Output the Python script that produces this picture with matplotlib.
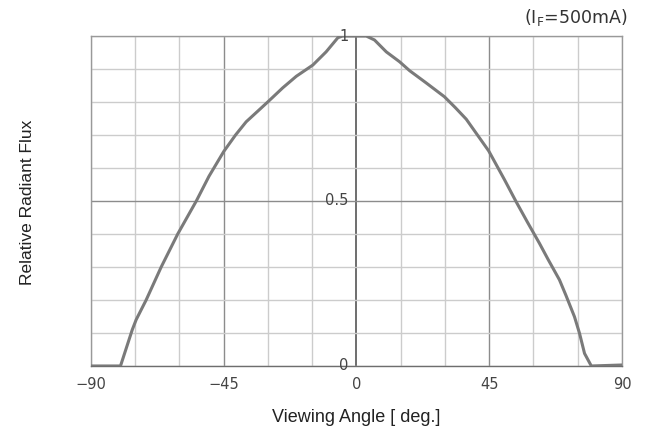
import numpy as np
import matplotlib.pyplot as plt

# values
angle = [-90, -80, -76, -74.7, -71.3, -66.2, -60.6, -54.3, -50, -45, -41,
         -37.4, -33.5, -30.1, -25, -20.4, -14.8, -10.3, -6.3, -4.7, 0, 3.3, 6.1,
         10.1, 14.6, 18, 23.6, 29.8, 33.5, 37.2, 41, 44.8, 50.2, 54.1, 58, 62,
         65, 68.8, 71, 73.9, 75.6, 77.3, 79.6, 90]
flux = [0.0, 0.0, 0.11, 0.14, 0.20, 0.30, 0.40, 0.50, 0.575, 0.65, 0.70,
        0.74, 0.772, 0.80, 0.843, 0.878, 0.912, 0.952, 0.995, 1.0, 1.0, 1.0, 0.988,
        0.952, 0.922, 0.895, 0.858, 0.816, 0.783, 0.748, 0.70, 0.652, 0.564,
        0.498, 0.435, 0.372, 0.322, 0.261, 0.214, 0.149, 0.099, 0.038, 0.0, 0.003]
x_ticks = [-90, -45, 0, 45, 90]
y_labels = [(1, "1"), (0.5, "0.5"), (0, "0")]

fig = plt.figure(figsize=(6.49, 4.36), dpi=100)
ax = fig.add_axes([0.1402, 0.1606, 0.8182, 0.7568])

# grid
for gx in np.arange(-90, 91, 15):
    if gx in (-45, 45):
        c, lw = "#8c8c8c", 1.0
    elif gx == 0:
        c, lw = "#6e6e6e", 1.4
    else:
        c, lw = "#cccccc", 1.0
    ax.axvline(gx, color=c, lw=lw, zorder=1)
for gy in np.arange(0, 1.01, 0.1):
    c = "#8c8c8c" if abs(gy - 0.5) < 1e-6 else "#cccccc"
    ax.axhline(gy, color=c, lw=1.0, zorder=1)

ax.plot(angle, flux, color="#7a7a7a", lw=2.2, zorder=3,
        solid_joinstyle="round", solid_capstyle="round")

ax.set_xlim(-90, 90)
ax.set_ylim(0, 1)
for s in ax.spines.values():
    s.set_color("#999999")
    s.set_linewidth(1.0)
ax.spines["bottom"].set_color("#6e6e6e")

ax.set_xticks(x_ticks)
ax.set_xticklabels([str(t).replace("-", "\u2212") for t in x_ticks])
ax.tick_params(axis="x", length=0, pad=8, labelsize=10.5, labelcolor="#444444")
ax.set_yticks([])

for yv, lab in y_labels:
    ax.text(-2.8, yv, lab, ha="right", va="center", fontsize=10.5, color="#444444", zorder=4)

ax.set_xlabel("Viewing Angle [ deg.]", fontsize=13, labelpad=12, color="#222222",
              family="Liberation Sans")
fig.text(0.043, 0.535, "Relative Radiant Flux", rotation=90, ha="center", va="center",
         fontsize=12.5, color="#222222", family="Liberation Sans")
fig.text(0.966, 0.96, "(I$_\\mathregular{F}$=500mA)", ha="right", va="center",
         fontsize=12.5, color="#333333")

fig.savefig("out.png", dpi=100)
